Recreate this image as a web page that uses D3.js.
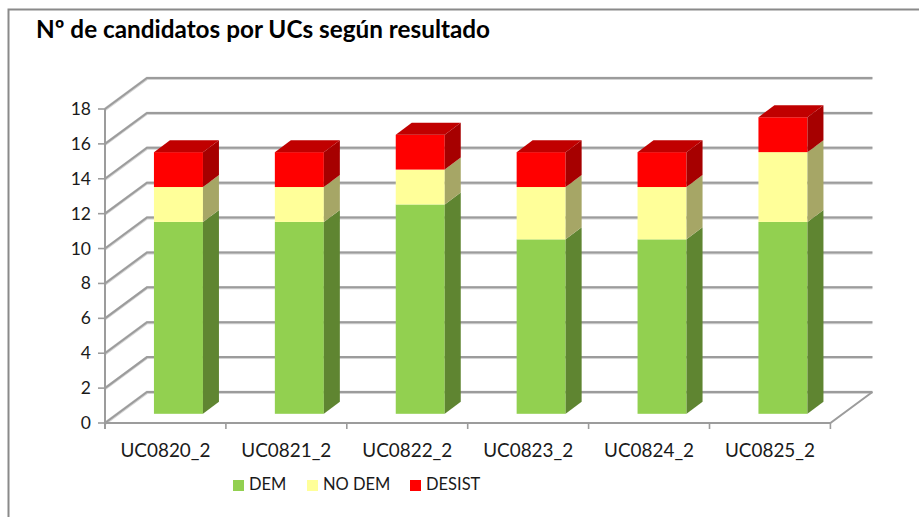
<!DOCTYPE html>
<html><head><meta charset="utf-8">
<script src="https://cdn.jsdelivr.net/npm/d3@7"></script>
<style>html,body{margin:0;padding:0;background:#fff}svg{display:block}text{font-family:Lato,"Open Sans",sans-serif;fill:#1a1a1a}</style>
</head><body><svg id="c" width="919" height="517"></svg>
<script>
const categories=["UC0820_2","UC0821_2","UC0822_2","UC0823_2","UC0824_2","UC0825_2"];
const dem=[11,11,12,10,10,11];
const noDem=[2,2,2,3,3,4];
const desist=[2,2,2,2,2,2];
const seriesNames=["DEM","NO DEM","DESIST"];
const yTicks=[0,2,4,6,8,10,12,14,16,18];
const titleText="Nº de candidatos por UCs según resultado";

const W=919,H=517;
const svg=d3.select("#c");
const front={x0:105,x1:830.4,y0:423,y1:109};
const wallDx=42,wallDy=-31;
const barDx=13,barDy=-9.2,sideDx=16,sideDy=-12;
const x=d3.scaleBand().domain(categories).range([front.x0,front.x1]).paddingInner(0).paddingOuter(0);
const y=d3.scaleLinear().domain([0,18]).range([front.y0,front.y1]);
const grid="#9c9c9c";

// frame
svg.append("path").attr("d",`M8.5,${H}V9.5H${W}`).attr("fill","none").attr("stroke","#8a8a8a").attr("stroke-width",2);

// title
svg.append("text").attr("x",36).attr("y",38).attr("font-size",24.3).attr("font-weight",700).style("fill","#000").text(titleText);

// gridlines
const g=svg.append("g").attr("fill","none");
yTicks.forEach(t=>{
  const yy=y(t);
  [[1,"#d4d4d4",3.2],[0,grid,2]].forEach(([o,c,w])=>{
    g.append("path").attr("d",`M${front.x0},${yy}L${front.x0+wallDx},${yy+wallDy}H${front.x1+wallDx}`)
      .attr("stroke",c).attr("stroke-width",w).attr("transform",`translate(0,${o*0.4})`);
  });
  g.append("line").attr("x1",front.x0-7).attr("x2",front.x0).attr("y1",yy).attr("y2",yy).attr("stroke",grid).attr("stroke-width",1.6);
});
// floor
g.append("path").attr("d",`M${front.x0},${y(0)}H${front.x1}L${front.x1+wallDx},${y(0)+wallDy}`).attr("stroke",grid).attr("stroke-width",2);
// left axis
g.append("line").attr("x1",front.x0).attr("x2",front.x0).attr("y1",y(18)).attr("y2",y(0)+6).attr("stroke",grid).attr("stroke-width",2);
// x ticks
categories.concat([null]).forEach((c,i)=>{
  const xx=front.x0+i*x.step();
  g.append("line").attr("x1",xx).attr("x2",xx).attr("y1",y(0)).attr("y2",y(0)+6).attr("stroke",grid).attr("stroke-width",1.6);
});

// y labels
svg.append("g").selectAll("text").data(yTicks).join("text")
  .attr("x",91).attr("y",d=>y(d)+6).attr("text-anchor","end").attr("font-size",17.5).text(d=>d);
// x labels
svg.append("g").selectAll("text").data(categories).join("text")
  .attr("x",d=>x(d)+x.bandwidth()/2).attr("y",457).attr("text-anchor","middle").attr("font-size",18.9).text(d=>d);

// bars
const colors=[
 {front:"#92D050",side:"#5F8531"},
 {front:"#FFFF99",side:"#A6A666"},
 {front:"#FF0000",side:"#A60000",top:"#C00000"}];
const barW=49;
const bars=svg.append("g");
const seriesValues=[dem,noDem,desist];
categories.forEach((c,i)=>{
  const bx=x(c)+x.bandwidth()/2-barW/2+barDx;
  let base=0;
  seriesValues.forEach((vals,s)=>{
    const v=vals[i],y0=y(base)+barDy,y1=y(base+v)+barDy,col=colors[s];
    bars.append("rect").attr("x",bx).attr("y",y1).attr("width",barW).attr("height",y0-y1).attr("fill",col.front);
    bars.append("path").attr("d",`M${bx+barW},${y0}V${y1}l${sideDx},${sideDy}V${y0+sideDy}Z`).attr("fill",col.side);
    if(col.top){
      bars.append("path").attr("d",`M${bx},${y1}l${sideDx},${sideDy}h${barW}l${-sideDx},${-sideDy}Z`).attr("fill",col.top);
    }
    base+=v;
  });
});

// legend
const legendX=[233,307,410];
const legendColors=colors.map(d=>d.front);
const lg=svg.append("g");
seriesNames.forEach((n,i)=>{
  lg.append("rect").attr("x",legendX[i]).attr("y",480).attr("width",11).attr("height",11).attr("fill",legendColors[i]);
  lg.append("text").attr("x",legendX[i]+16).attr("y",490).attr("font-size",16.5).text(n);
});
</script></body></html>
